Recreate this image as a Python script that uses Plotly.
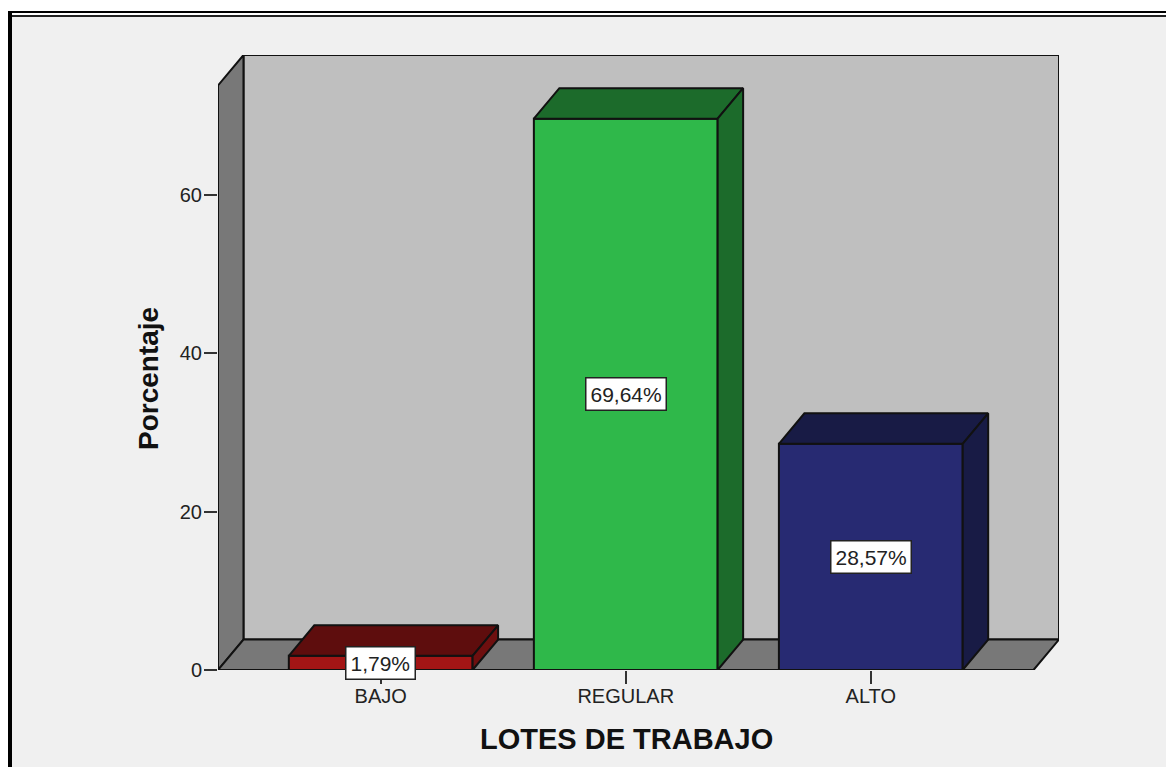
import plotly.graph_objects as go

# Percentage of cases per work-lot level
categories = ["BAJO", "REGULAR", "ALTO"]
percentages = [1.79, 69.64, 28.57]
value_labels = ["1,79%", "69,64%", "28,57%"]
y_ticks = [0, 20, 40, 60]

front_colors = ["#a31515", "#2fb84a", "#272a72"]
top_colors = ["#5e0d0d", "#1c6b2b", "#181b45"]
side_colors = ["#6e0f0f", "#1c6b2b", "#181b45"]

W, H = 1166, 767
LEFT, RIGHT, TOP, BOTTOM = 218, 1059, 55, 670

X_MIN, X_MAX = -0.664, 2.768
Y_MAX = 77.68
BAR_WIDTH = 0.75
DEPTH_X = 0.104   # oblique depth, category units
DEPTH_Y = 3.85    # oblique depth, percentage units

FLOOR_RIGHT = X_MAX - DEPTH_X
WALL_TOP = Y_MAX
FRONT_TOP = Y_MAX - DEPTH_Y

OUTLINE = "#111111"
LINE_W = 2


def px(x):
    return (x - LEFT) / (RIGHT - LEFT)


def py(y):
    return (BOTTOM - y) / (BOTTOM - TOP)


def face(xs, ys, color):
    return go.Scatter(
        x=xs, y=ys, mode="lines", fill="toself", fillcolor=color,
        line=dict(color=OUTLINE, width=LINE_W), hoverinfo="skip",
        showlegend=False, cliponaxis=False,
    )


def wall(points, color):
    path = "M " + " L ".join(f"{x},{y}" for x, y in points) + " Z"
    return dict(type="path", path=path, xref="x", yref="y", fillcolor=color,
                line=dict(color=OUTLINE, width=LINE_W), layer="below")


def band(x0, x1, y0, y1, color):
    return dict(type="rect", xref="paper", yref="paper", x0=px(x0), x1=px(x1),
                y0=py(y0), y1=py(y1), fillcolor=color, line_width=0, layer="below")


fig = go.Figure()

# Front faces
fig.add_trace(go.Bar(
    x=list(range(len(categories))), y=percentages, width=BAR_WIDTH,
    marker=dict(color=front_colors, line=dict(color=OUTLINE, width=LINE_W)),
    hoverinfo="skip", showlegend=False,
))

# Top and side faces of each bar
for i, value in enumerate(percentages):
    x0, x1 = i - BAR_WIDTH / 2, i + BAR_WIDTH / 2
    fig.add_trace(face(
        [x0, x0 + DEPTH_X, x1 + DEPTH_X, x1, x0],
        [value, value + DEPTH_Y, value + DEPTH_Y, value, value], top_colors[i]))
    fig.add_trace(face(
        [x1, x1 + DEPTH_X, x1 + DEPTH_X, x1, x1],
        [0, DEPTH_Y, value + DEPTH_Y, value, 0], side_colors[i]))

# Value labels centred on each front face
for i, value in enumerate(percentages):
    fig.add_annotation(
        x=i, y=value / 2, text=value_labels[i], showarrow=False,
        font=dict(family="Liberation Sans", size=21, color="#222222"),
        bgcolor="white", bordercolor="#222222", borderwidth=1.5,
        borderpad=4, align="center",
    )

# Axis titles
fig.add_annotation(
    xref="paper", yref="paper", x=px(626), y=py(739), showarrow=False,
    xanchor="center", yanchor="middle",
    text="<b>LOTES DE TRABAJO</b>",
    font=dict(family="Liberation Sans", size=29, color="#111111"),
)
fig.add_annotation(
    xref="paper", yref="paper", x=px(148), y=py(379), showarrow=False,
    xanchor="center", yanchor="middle",
    text="<b>Porcentaje</b>", textangle=-90,
    font=dict(family="Liberation Sans", size=28, color="#111111"),
)

fig.update_layout(
    width=W, height=H, autosize=False,
    margin=dict(l=LEFT, r=W - RIGHT, t=TOP, b=H - BOTTOM, pad=0),
    paper_bgcolor="#f0f0f0", plot_bgcolor="rgba(0,0,0,0)",
    font=dict(family="Liberation Sans", color="#222222"),
    barmode="overlay",
    xaxis=dict(
        range=[X_MIN, X_MAX], tickmode="array",
        tickvals=list(range(len(categories))), ticktext=categories,
        ticks="outside", ticklen=13, tickwidth=1.5, tickcolor="#333333",
        tickfont=dict(size=20), showgrid=False, zeroline=False,
        showline=False, ticklabelstandoff=-5,
    ),
    yaxis=dict(
        range=[0, Y_MAX], tickmode="array", tickvals=y_ticks,
        ticks="outside", ticklen=13, tickwidth=1.5, tickcolor="#333333",
        tickfont=dict(size=20), showgrid=False, zeroline=False,
        showline=False, ticklabelstandoff=-2,
    ),
    shapes=[
        # White page margin outside the window frame
        band(0, W, 0, 11, "white"),
        band(0, 8, 0, H, "white"),
        # Double rule along the top and heavy rule down the left
        band(8, W, 11, 13, "#000000"),
        band(10, W, 13, 15, "white"),
        band(10, W, 15, 17, "#222222"),
        band(8, 12, 11, H, "#000000"),
        # Chart box: back wall, left wall and floor
        wall([(X_MIN + DEPTH_X, DEPTH_Y), (X_MAX, DEPTH_Y),
              (X_MAX, WALL_TOP), (X_MIN + DEPTH_X, WALL_TOP)], "#bfbfbf"),
        wall([(X_MIN, 0), (X_MIN + DEPTH_X, DEPTH_Y),
              (X_MIN + DEPTH_X, WALL_TOP), (X_MIN, FRONT_TOP)], "#787878"),
        wall([(X_MIN, 0), (X_MIN + DEPTH_X, DEPTH_Y),
              (X_MAX, DEPTH_Y), (FLOOR_RIGHT, 0)], "#787878"),
    ],
)

fig.write_html("out.html", config=dict(displayModeBar=False))
